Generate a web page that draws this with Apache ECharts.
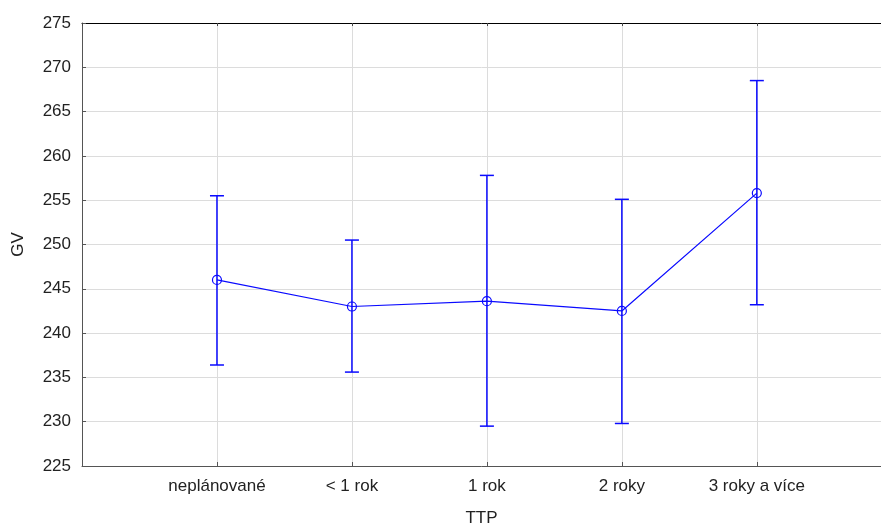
<!DOCTYPE html>
<html>
<head>
<meta charset="utf-8">
<script src="https://cdn.jsdelivr.net/npm/echarts@6/dist/echarts.min.js"></script>
<style>
  html, body { margin: 0; padding: 0; background: #fff; }
  #chart { width: 881px; height: 525px; }
</style>
</head>
<body>
<div id="chart"></div>
<script>
// TTP groups and GV mean with interval bounds
const categories = ['neplánované', '< 1 rok', '1 rok', '2 roky', '3 roky a více'];
const means = [246.0, 243.0, 243.6, 242.5, 255.8];
const upper = [255.5, 250.5, 257.8, 255.1, 268.5];
const lower = [236.4, 235.6, 229.5, 229.8, 243.2];

const BLUE = '#0a0aff';
const FONT = 'Liberation Sans, Arial, sans-serif';

const linePoints = means.map((m, i) => [i + 1, m]);
const barData = means.map((m, i) => [i + 1, lower[i], upper[i]]);

function catLabel(v) {
  const i = Math.round(v);
  if (Math.abs(v - i) > 1e-6 || i < 1 || i > categories.length) return '';
  return categories[i - 1];
}

function segment(x1, y1, x2, y2) {
  return {
    type: 'line',
    shape: { x1, y1, x2, y2 },
    style: { stroke: BLUE, lineWidth: 1.5, fill: null }
  };
}

// whisker with caps for each group
function renderErrorBar(params, api) {
  const x = api.value(0);
  const lo = api.coord([x, api.value(1)]);
  const hi = api.coord([x, api.value(2)]);
  const half = 7;
  return {
    type: 'group',
    children: [
      segment(lo[0], lo[1], hi[0], hi[1]),
      segment(hi[0] - half, hi[1], hi[0] + half, hi[1]),
      segment(lo[0] - half, lo[1], lo[0] + half, lo[1])
    ]
  };
}

const chart = echarts.init(document.getElementById('chart'));
chart.setOption({
  animation: false,
  backgroundColor: '#fff',
  grid: { left: 82, right: 0, top: 23, bottom: 59, outerBoundsMode: 'none', containLabel: false },
  xAxis: [
    {
      type: 'value', position: 'bottom', min: 0, max: 5.92, interval: 1,
      name: 'TTP', nameLocation: 'middle', nameGap: 44,
      nameTextStyle: { color: '#222', fontSize: 17, fontFamily: FONT },
      axisLine: { show: true, lineStyle: { color: '#555', width: 1 } },
      axisTick: { show: true, inside: true, length: 4, lineStyle: { color: '#555' } },
      axisLabel: { formatter: catLabel, color: '#222', fontSize: 17, fontFamily: FONT, margin: 12, showMinLabel: true, showMaxLabel: true },
      splitLine: { show: true, lineStyle: { color: '#dcdcdc', width: 1 } }
    },
    {
      type: 'value', position: 'top', min: 0, max: 5.92, interval: 1,
      axisLine: { show: true, lineStyle: { color: '#000', width: 1 } },
      axisTick: { show: true, inside: true, length: 3, lineStyle: { color: '#444' } },
      axisLabel: { show: false },
      splitLine: { show: false }
    }
  ],
  yAxis: {
    type: 'value', min: 225, max: 275, interval: 5,
    name: 'GV', nameLocation: 'middle', nameGap: 55,
    nameTextStyle: { color: '#222', fontSize: 17, fontFamily: FONT },
    axisLine: { show: true, lineStyle: { color: '#555', width: 1 } },
    axisTick: { show: true, inside: true, length: 4, lineStyle: { color: '#555' } },
    axisLabel: { color: '#222', fontSize: 17, fontFamily: FONT, margin: 11 },
    splitLine: { show: true, lineStyle: { color: '#dcdcdc', width: 1 } }
  },
  series: [
    {
      type: 'custom',
      xAxisIndex: 0,
      renderItem: renderErrorBar,
      encode: { x: 0, y: [1, 2] },
      itemStyle: { color: BLUE },
      data: barData,
      z: 2
    },
    {
      type: 'line',
      xAxisIndex: 0,
      data: linePoints,
      symbol: 'circle',
      symbolSize: 9,
      lineStyle: { color: BLUE, width: 1.2 },
      itemStyle: { color: 'rgba(255,255,255,0)', borderColor: BLUE, borderWidth: 1.2 },
      z: 3
    }
  ]
});
</script>
</body>
</html>
